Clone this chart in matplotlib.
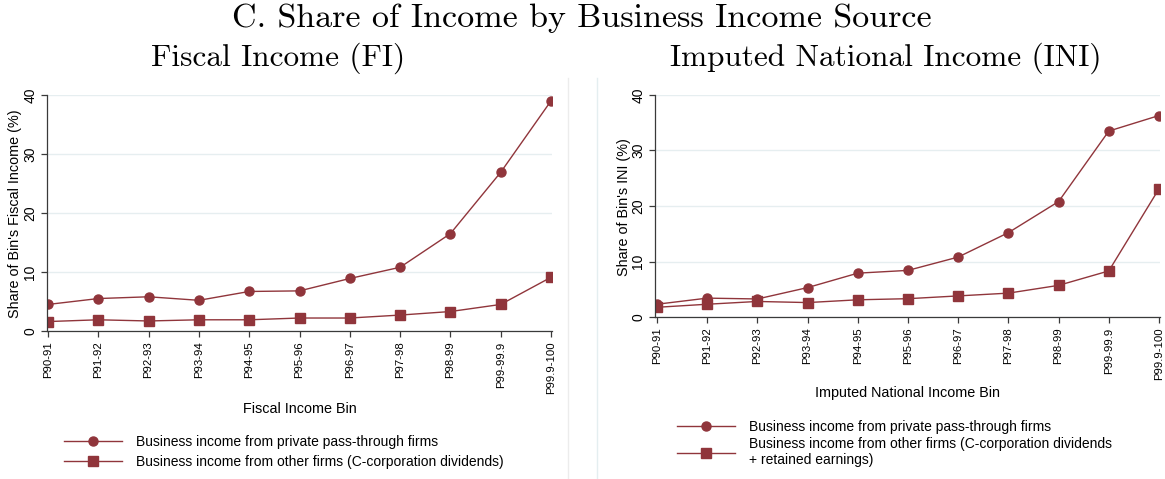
import matplotlib
matplotlib.use("Agg")
import matplotlib.pyplot as plt
from matplotlib.lines import Line2D

bins = ["P90-91", "P91-92", "P92-93", "P93-94", "P94-95", "P95-96",
        "P96-97", "P97-98", "P98-99", "P99-99.9", "P99.9-100"]

fi_passthrough = [4.5, 5.5, 5.8, 5.2, 6.7, 6.8, 8.9, 10.8, 16.5, 26.9, 39.0]
fi_other = [1.6, 1.9, 1.7, 1.9, 1.9, 2.2, 2.2, 2.7, 3.3, 4.5, 9.1]

ini_passthrough = [2.3, 3.4, 3.25, 5.3, 7.9, 8.4, 10.8, 15.2, 20.8, 33.5, 36.3]
ini_other = [1.75, 2.3, 2.8, 2.6, 3.1, 3.3, 3.8, 4.3, 5.7, 8.3, 23.1]

yticks = [0, 10, 20, 30, 40]

W, H = 1165, 479
COLOR = "#90353b"
GRID = "#e6eef0"
AXC = "#3a3a3a"
SANS = "Liberation Sans"
SERIF = "cmr10"

fig = plt.figure(figsize=(W / 100, H / 100), dpi=100)
fig.patch.set_facecolor("white")


def px_axes(x0, x1, ytop, ybot):
    return fig.add_axes([x0 / W, (H - ybot) / H, (x1 - x0) / W, (ybot - ytop) / H])


def style(ax, xlim):
    ax.set_xlim(*xlim)
    ax.set_ylim(0, 40)
    ax.set_yticks(yticks)
    ax.set_yticklabels([str(v) for v in yticks], rotation=90, va="center",
                       fontsize=10, family=SANS)
    ax.set_xticks(range(len(bins)))
    ax.set_xticklabels(bins, rotation=90, fontsize=8.2, family=SANS)
    for s in ["top", "right"]:
        ax.spines[s].set_visible(False)
    for s in ["left", "bottom"]:
        ax.spines[s].set_color(AXC)
        ax.spines[s].set_linewidth(0.9)
    ax.tick_params(axis="both", direction="out", length=4.5, width=0.9, color=AXC)
    ax.tick_params(axis="y", pad=2.5)
    ax.tick_params(axis="x", pad=3)
    ax.yaxis.grid(True, color=GRID, linewidth=1.0)
    ax.set_axisbelow(True)


x = list(range(len(bins)))

# Left panel
ax1 = px_axes(47, 552, 95, 331)
ax1.plot(x, fi_passthrough, color=COLOR, lw=1.0, marker="o", ms=6.5,
         label="Business income from private pass-through firms")
ax1.plot(x, fi_other, color=COLOR, lw=1.0, marker="s", ms=6.5,
         label="Business income from other firms (C-corporation dividends)")
style(ax1, (-0.02, 10.02))

# Right panel
ax2 = px_axes(655, 1160, 95, 317)
ax2.plot(x, ini_passthrough, color=COLOR, lw=1.0, marker="o", ms=6.5,
         label="Business income from private pass-through firms")
ax2.plot(x, ini_other, color=COLOR, lw=1.0, marker="s", ms=6.5,
         label="Business income from other firms (C-corporation dividends\n+ retained earnings)")
style(ax2, (-0.04, 10.02))

# Axis labels
fig.text(15 / W, 1 - 214 / H, "Share of Bin's Fiscal Income (%)", rotation=90,
         ha="center", va="center", fontsize=10.4, family=SANS)
fig.text(624 / W, 1 - 207 / H, "Share of Bin's INI (%)", rotation=90,
         ha="center", va="center", fontsize=10.4, family=SANS)
fig.text(300 / W, 1 - 409 / H, "Fiscal Income Bin", ha="center", va="center",
         fontsize=10.4, family=SANS)
fig.text(907 / W, 1 - 393 / H, "Imputed National Income Bin", ha="center",
         va="center", fontsize=10.4, family=SANS)

# Legends
fig.legend(handles=ax1.get_lines(), loc="upper left",
           bbox_to_anchor=(58 / W, 1 - 429 / H), frameon=False,
           prop={"family": SANS, "size": 10}, handlelength=4.2,
           handletextpad=1.0, labelspacing=0.45, borderaxespad=0)
fig.legend(handles=ax2.get_lines(), loc="upper left",
           bbox_to_anchor=(671 / W, 1 - 414 / H), frameon=False,
           prop={"family": SANS, "size": 10}, handlelength=4.2,
           handletextpad=1.0, labelspacing=0.25, borderaxespad=0)

# Titles
fig.text(0.5 * (228 + 935) / W, 1 - 18 / H,
         "C. Share of Income by Business Income Source",
         ha="center", va="center", fontsize=24.5, family=SERIF)
fig.text(278 / W, 1 - 58 / H, "Fiscal Income (FI)", ha="center", va="center",
         fontsize=22.5, family=SERIF)
fig.text(886 / W, 1 - 58 / H, "Imputed National Income (INI)", ha="center",
         va="center", fontsize=22.5, family=SERIF)

# Panel separators
fig.add_artist(Line2D([568 / W, 568 / W], [0, 1 - 78 / H], color="#ececec", lw=1))
fig.add_artist(Line2D([597 / W, 597 / W], [0, 1 - 78 / H], color="#e4eef0", lw=1))

fig.savefig("out.png", dpi=100)
